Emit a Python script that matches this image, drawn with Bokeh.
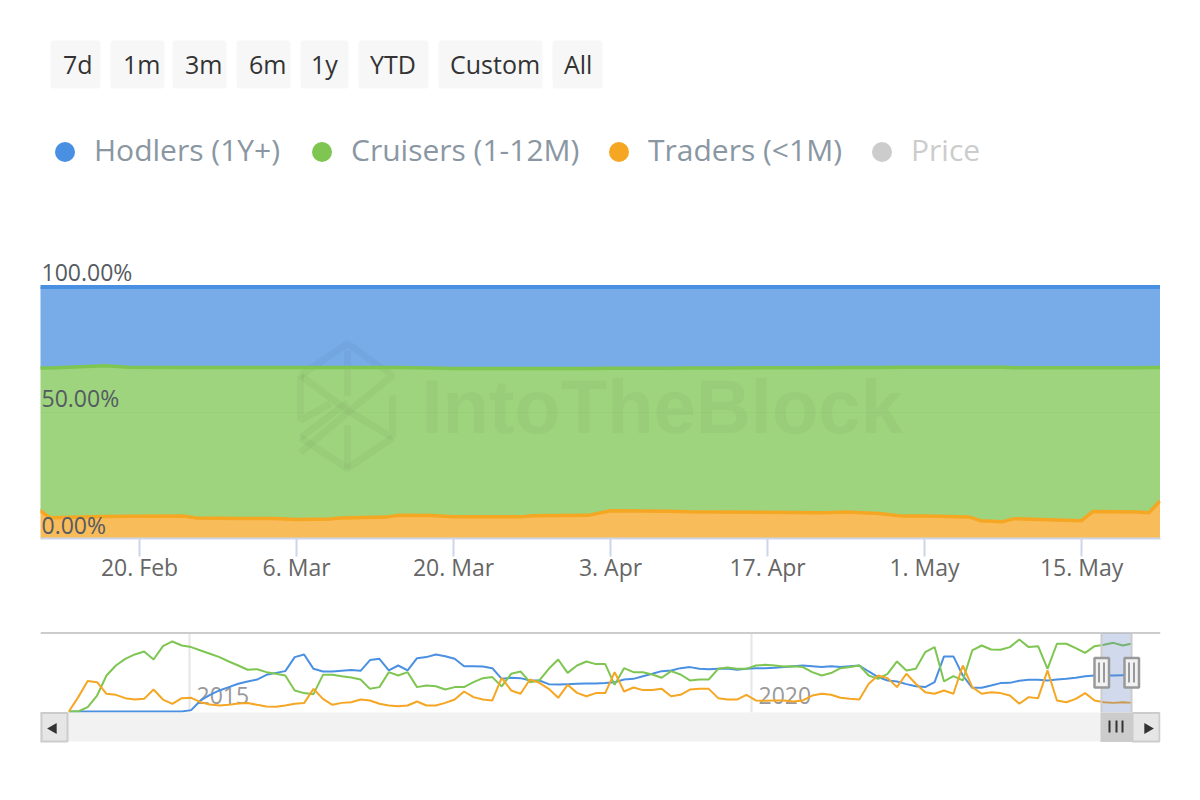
import pandas as pd
from bokeh.core.properties import value
from bokeh.embed import file_html
from bokeh.layouts import column
from bokeh.models import FixedTicker, Range1d
from bokeh.plotting import figure
from bokeh.resources import INLINE

FONT = "Open Sans"
BLUE, GREEN, ORANGE = "#4a90e2", "#7ec651", "#f5a623"

range_buttons = ["7d", "1m", "3m", "6m", "1y", "YTD", "Custom", "All"]
series_names = ["Hodlers (1Y+)", "Cruisers (1-12M)", "Traders (<1M)", "Price"]

main_dates = ["2023-02-11", "2023-02-12", "2023-02-17", "2023-02-19", "2023-02-24", "2023-02-25", "2023-03-01",
              "2023-03-04", "2023-03-06", "2023-03-09", "2023-03-10", "2023-03-14", "2023-03-15", "2023-03-18",
              "2023-03-20", "2023-03-26", "2023-03-27", "2023-04-01", "2023-04-03", "2023-04-08", "2023-04-10",
              "2023-04-13", "2023-04-17", "2023-04-22", "2023-04-24", "2023-04-27", "2023-04-29", "2023-05-01",
              "2023-05-05", "2023-05-06", "2023-05-08", "2023-05-09", "2023-05-15", "2023-05-16", "2023-05-20",
              "2023-05-21", "2023-05-22"]
traders = [11.5, 8.3, 8.7, 8.8, 8.9, 8.2, 8.0, 8.0, 7.6, 7.8, 8.2, 8.5, 9.2, 9.1, 8.6, 8.6, 9.0, 9.2, 11.0, 10.8,
           10.6, 10.5, 10.4, 10.2, 10.5, 9.9, 8.9, 8.9, 8.5, 7.1, 6.7, 7.9, 7.1, 10.7, 10.5, 10.2, 14.9]
cruisers = [56.3, 59.5, 60.0, 59.3, 59.1, 59.8, 60.0, 60.0, 60.4, 60.2, 59.8, 59.5, 58.8, 58.7, 59.0, 59.0, 58.6, 58.4,
            56.7, 56.9, 57.2, 57.3, 57.5, 57.7, 57.5, 58.1, 59.2, 59.2, 59.6, 61.0, 61.4, 60.0, 60.8, 57.2, 57.4,
            57.8, 53.1]
hodlers = [32.2, 32.2, 31.3, 31.9, 32.0, 32.0, 32.0, 32.0, 32.0, 32.0, 32.0, 32.0, 32.0, 32.2, 32.4, 32.4, 32.4, 32.4,
           32.3, 32.3, 32.2, 32.2, 32.1, 32.1, 32.0, 32.0, 31.9, 31.9, 31.9, 31.9, 31.9, 32.1, 32.1, 32.1, 32.1,
           32.0, 32.0]

x_tick_dates = ["2023-02-20", "2023-03-06", "2023-03-20", "2023-04-03", "2023-04-17", "2023-05-01", "2023-05-15"]
x_tick_labels = ["20. Feb", "6. Mar", "20. Mar", "3. Apr", "17. Apr", "1. May", "15. May"]
y_ticks = [0, 50, 100]
y_tick_labels = ["0.00%", "50.00%", "100.00%"]

# Navigator: about one reading per month, Dec 2013 to May 2023
nav_traders = [0, 12.5, 26.5, 25.5, 15.4, 14.5, 11.6, 10.4, 11, 19.1, 10.4, 6.7, 11.6, 11.9, 8.1, 6.1, 5.2, 5.8, 7, 7.3,
               5.8, 4.4, 4.1, 5.2, 6.7, 7.3, 19.7, 11, 5.8, 7.5, 8.1, 10.4, 9.6, 6.7, 5.2, 4.6, 5.2, 8.7, 5.2,
               5.2, 7.5, 10.4, 17.4, 12.5, 10.4, 9.6, 29.3, 18.3, 15.4, 27.8, 24.9, 19.7, 11.9, 23.2, 16.2, 13.3, 16,
               16, 34.2, 17.4, 20.9, 18.6, 18.6, 19.7, 13.3, 14.5, 19.1, 19.7, 19.7, 11.6, 10.4, 10.4, 14.5, 9.6, 9.3,
               9.6, 9.6, 8.7, 9.6,
               13.9, 15.4, 14.5, 11.9, 11, 10.4, 24.1, 31.3, 29, 21.2, 32.8, 24.1, 16.8, 15.4, 18.3, 15.4, 40, 21.2,
               15.4, 16.8, 16, 13.9, 6.7, 12.5, 11.6, 35.7, 9.6, 8.1, 11, 16, 9.6, 8.1, 7.5, 8.1, 7.5]
nav_cruisers = [0, 0, 3.8, 13.9, 31.3, 40, 45.8, 49.6, 52.2, 45.2, 56.8, 60.9, 57.4, 56, 53.1, 50.2, 47.3, 43.5, 40,
                36.3, 36.8, 34.2, 32.8, 31.3, 18.3, 16, 15.1, 31.9, 31.9, 30.7, 29.6, 27.8, 19.7, 21.2, 34.2, 31.3,
                34.2, 21.2, 22.6,
                22, 19.1, 21.2, 21.2, 25.5, 29, 29.9, 21.8, 32.8, 34.8, 25.5, 27, 37.1, 45.2, 33.6, 40, 43.5, 41.2,
                41.2, 23.2, 37.7, 34.2, 34.2, 32.2, 29.3, 35.1, 32.2, 27, 27.8, 27.8, 37.1, 38.3, 37.1, 37.1, 40, 40.6,
                40, 39.2, 39.4, 38.6,
                34.2, 31.3, 33.4, 37.7, 38.6, 40, 31.3, 28.4, 32.8, 43.5, 35.7, 37.1, 51.6, 56, 26.1, 30.7, 27, 53.1,
                57.4, 53.9, 53.7, 56, 62.6, 56, 56.8, 37.1, 58.9, 58.9, 55.1, 51, 56.8, 58, 59.7, 57.4, 59.2]
nav_hodlers = [0, 0, 0, 0, 0, 0, 0, 0, 0, 0, 0, 0, 0, 1.2, 9.6, 14.5, 18.3, 21.2, 24.1, 26.1, 27.8, 31.9, 33.6, 35.1,
               47.3, 49.6, 37.1, 34.8, 34.8, 35.4, 36, 35.4, 44.7, 45.8, 35.7, 40, 35.7, 46.4, 47.3,
               49.6, 48.1, 45.8, 39.4, 39.4, 39.1, 37.7, 28.4, 29.3, 29, 27, 27, 23.8, 23.5, 23.8, 24.1, 24.4, 24.4,
               24.7, 25.5, 27.8, 28.4, 30.7, 32.8, 35.1, 35.7, 37.7, 38.6, 37.1, 36.8, 37.1, 37.4, 36.3, 37.1, 37.7,
               37.7, 38, 38.6, 39.4, 40,
               39.4, 38.6, 39.4, 38.6, 39.4, 40, 34.8, 29.9, 27, 26.1, 23.8, 22, 21.2, 25.5, 47.9, 47.9, 31.3, 20.6,
               20.6, 22.6, 24.7, 24.9, 26.7, 27.6, 27.6, 27, 27.8, 28.4, 29.3, 30.7, 31.3, 31.3, 31.3, 31.6, 31.6]
nav_tick_dates = ["2015-01-01", "2020-01-01"]
nav_tick_labels = ["2015", "2020"]


def ms(d):
    return pd.Timestamp(d).value / 1e6


main_x = [ms(d) for d in main_dates]
t_top = list(traders)
c_top = [a + b for a, b in zip(traders, cruisers)]
h_top = [a + b for a, b in zip(c_top, hodlers)]
zeros = [0.0] * len(main_x)

# ---------- header (pixel coordinates) ----------
head = figure(width=1200, height=230, x_range=Range1d(40, 1160), y_range=Range1d(230, 0),
              toolbar_location=None, output_backend="svg", min_border_left=40, min_border_right=40,
              min_border_top=0, min_border_bottom=0)
head.axis.visible = False
head.grid.visible = False
head.outline_line_color = None
b_left = [50, 110, 172, 236, 300, 358, 438, 552]
b_right = [100, 164, 226, 290, 348, 428, 542, 602]
b_text = [62.5, 122.5, 184.5, 248.5, 310.5, 369.5, 449.5, 563.5]
head.quad(left=b_left, right=b_right, top=[40] * 8, bottom=[88] * 8, fill_color="#f7f7f7", line_color=None,
          border_radius=3)
head.text(x=b_text, y=[63.5] * 8, text=range_buttons, text_font=value(FONT), text_font_size="25px",
          text_color="#333333", text_baseline="middle")
l_dot = [64.5, 321.5, 618.5, 881.5]
l_text = [93.5, 350.5, 647.5, 910.5]
l_dot_col = [BLUE, GREEN, ORANGE, "#cccccc"]
l_text_col = ["#8a97a3", "#8a97a3", "#8a97a3", "#cccccc"]
head.scatter(x=l_dot, y=[151.5] * 4, size=20, color=l_dot_col, line_color=None)
head.text(x=l_text, y=[149] * 4, text=series_names, text_font=value(FONT), text_font_size="30px",
          text_color=l_text_col, text_baseline="middle")

# ---------- main chart ----------
PX_PER_UNIT = 2.515
x_start, x_end = ms("2023-02-11 04:00"), ms("2023-05-22 01:00")
p = figure(width=1200, height=370, x_range=Range1d(x_start, x_end), y_range=Range1d(0, 308 / PX_PER_UNIT),
           toolbar_location=None, output_backend="svg", min_border_left=40, min_border_right=40, min_border_top=0,
           min_border_bottom=62)
p.outline_line_color = None
p.yaxis.visible = False
p.xgrid.visible = False
p.ygrid.ticker = FixedTicker(ticks=y_ticks)
p.ygrid.grid_line_color = "#eeeeee"
p.ygrid.grid_line_width = 1
ax = p.xaxis[0]
tick_ms = [ms(d) for d in x_tick_dates]
ax.ticker = FixedTicker(ticks=tick_ms)
ax.major_label_overrides = dict(zip(tick_ms, x_tick_labels))
ax.major_tick_out = 18
ax.major_tick_in = 0
ax.minor_tick_line_color = None
ax.major_tick_line_color = "#ccd6eb"
ax.major_tick_line_width = 2
ax.axis_line_color = "#ccd6eb"
ax.axis_line_width = 2
ax.major_label_standoff = -6
ax.major_label_text_font = FONT
ax.major_label_text_font_size = "23px"
ax.major_label_text_color = "#666666"

ALPHA = 0.75
p.varea(x=main_x, y1=zeros, y2=t_top, fill_color=ORANGE, fill_alpha=ALPHA)
p.varea(x=main_x, y1=t_top, y2=c_top, fill_color=GREEN, fill_alpha=ALPHA)
p.varea(x=main_x, y1=c_top, y2=h_top, fill_color=BLUE, fill_alpha=ALPHA)


def mx(px):
    return x_start + (px - 40) / 1120 * (x_end - x_start)


def my(py):
    return (538 - py) / PX_PER_UNIT


# watermark
logo = [[(300, 375), (347, 343), (392, 375), (347, 412), (300, 452)],
        [(300, 375), (300, 420), (330, 403)],
        [(300, 375), (347, 410), (392, 437), (392, 395)],
        [(347, 350), (347, 395)],
        [(300, 437), (347, 468), (392, 437)],
        [(300, 437), (347, 402)],
        [(347, 425), (347, 468)]]
p.multi_line(xs=[[mx(a) for a, _ in s] for s in logo], ys=[[my(b) for _, b in s] for s in logo],
             line_color="black", line_alpha=0.03, line_width=7)
p.text(x=[mx(421)], y=[my(406)], text=["IntoTheBlock"], text_font=value("Liberation Sans"),
       text_font_style="bold", text_font_size="76px", text_color="black", text_alpha=0.03, text_baseline="middle")

p.line(x=main_x, y=h_top, line_color=BLUE, line_width=4)
p.line(x=main_x, y=c_top, line_color=GREEN, line_width=3.5)
p.line(x=main_x, y=t_top, line_color=ORANGE, line_width=3.5)
label_y = [my(py) for py in (524, 397, 271)]
p.text(x=[x_start] * 3, y=label_y, x_offset=1, text=y_tick_labels, text_font=value(FONT), text_font_size="23px",
       text_color="#555b62", text_baseline="middle")

# ---------- navigator + scrollbar ----------
NAV_UNIT = 1.15
MS_PER_PX = (ms("2020-01-01") - ms("2015-01-01")) / (751 - 189)


def nx(px):
    return ms("2015-01-01") + (px - 189) * MS_PER_PX


def ny(py):
    return (711 - py) / NAV_UNIT


nav_dates = pd.date_range("2013-12-05", "2023-05-22", periods=len(nav_hodlers))
nav_x = [t.value / 1e6 for t in nav_dates]
n = figure(width=1200, height=148, x_range=Range1d(nx(40), nx(1160)), y_range=Range1d(ny(744), ny(630)),
           toolbar_location=None, output_backend="svg", min_border_left=40, min_border_right=40, min_border_top=30,
           min_border_bottom=4)
n.axis.visible = False
n.grid.visible = False
n.outline_line_color = None
nav_tick_ms = [ms(d) for d in nav_tick_dates]
n.segment(x0=nav_tick_ms, x1=nav_tick_ms, y0=[ny(633)] * 2, y1=[ny(712)] * 2, line_color="#e6e6e6", line_width=2)
n.text(x=nav_tick_ms, y=[ny(695)] * 2, x_offset=7, text=nav_tick_labels, text_font=value(FONT), text_font_size="23px",
       text_color="#999999", text_baseline="middle")
n.segment(x0=[nx(40)], x1=[nx(1160)], y0=[ny(632.5)], y1=[ny(632.5)], line_color="#cccccc", line_width=2)
n.line(x=nav_x, y=nav_hodlers, line_color=BLUE, line_width=2)
n.line(x=nav_x, y=nav_cruisers, line_color=GREEN, line_width=2)
n.line(x=nav_x, y=nav_traders, line_color=ORANGE, line_width=2)
# selected-range mask
n.quad(left=[nx(1101)], right=[nx(1131)], top=[ny(633)], bottom=[ny(712)], fill_color="#6685c2", fill_alpha=0.3,
       line_color=None)
n.segment(x0=[nx(1101), nx(1131)], x1=[nx(1101), nx(1131)], y0=[ny(633)] * 2, y1=[ny(712)] * 2, line_color="#cccccc",
          line_width=2)
# scrollbar
n.quad(left=[nx(67)], right=[nx(1132)], top=[ny(712)], bottom=[ny(741)], fill_color="#f2f2f2", line_color=None)
n.quad(left=[nx(39)], right=[nx(67)], top=[ny(712.5)], bottom=[ny(741)], fill_color="#e6e6e6", line_color="#cccccc",
       line_width=2)
n.segment(x0=[nx(41)], x1=[nx(41)], y0=[ny(712.5)], y1=[ny(741)], line_color="#cccccc", line_width=2)
n.quad(left=[nx(1132)], right=[nx(1159)], top=[ny(712.5)], bottom=[ny(741)],
       fill_color="#e6e6e6", line_color="#cccccc", line_width=2)
n.quad(left=[nx(1100)], right=[nx(1131.5)], top=[ny(712)], bottom=[ny(741.5)], fill_color="#cccccc", line_color=None)
grip = [1109, 1116, 1122]
n.segment(x0=[nx(g) for g in grip], x1=[nx(g) for g in grip], y0=[ny(720)] * 3, y1=[ny(732)] * 3, line_color="#333333",
          line_width=2)
n.scatter(x=[nx(1147)], y=[ny(728)], marker="triangle", size=11, angle=-1.5708, color="#333333", line_color=None)
n.scatter(x=[nx(53)], y=[ny(728)], marker="triangle", size=11, angle=1.5708, color="#333333", line_color=None)
# handles
hl = [1094, 1124]
hr = [1108.5, 1138.5]
n.quad(left=[nx(a) for a in hl], right=[nx(a) for a in hr], top=[ny(657.5)] * 2, bottom=[ny(687)] * 2,
       fill_color="#f2f2f2", line_color="#999999", line_width=2.5)
hg = [1098.5, 1103.5, 1128.5, 1133.5]
n.segment(x0=[nx(a) for a in hg], x1=[nx(a) for a in hg], y0=[ny(662)] * 4, y1=[ny(682)] * 4, line_color="#999999",
          line_width=2)

layout = column(head, p, n, spacing=0)
open("out.html", "w").write(file_html(layout, INLINE))
